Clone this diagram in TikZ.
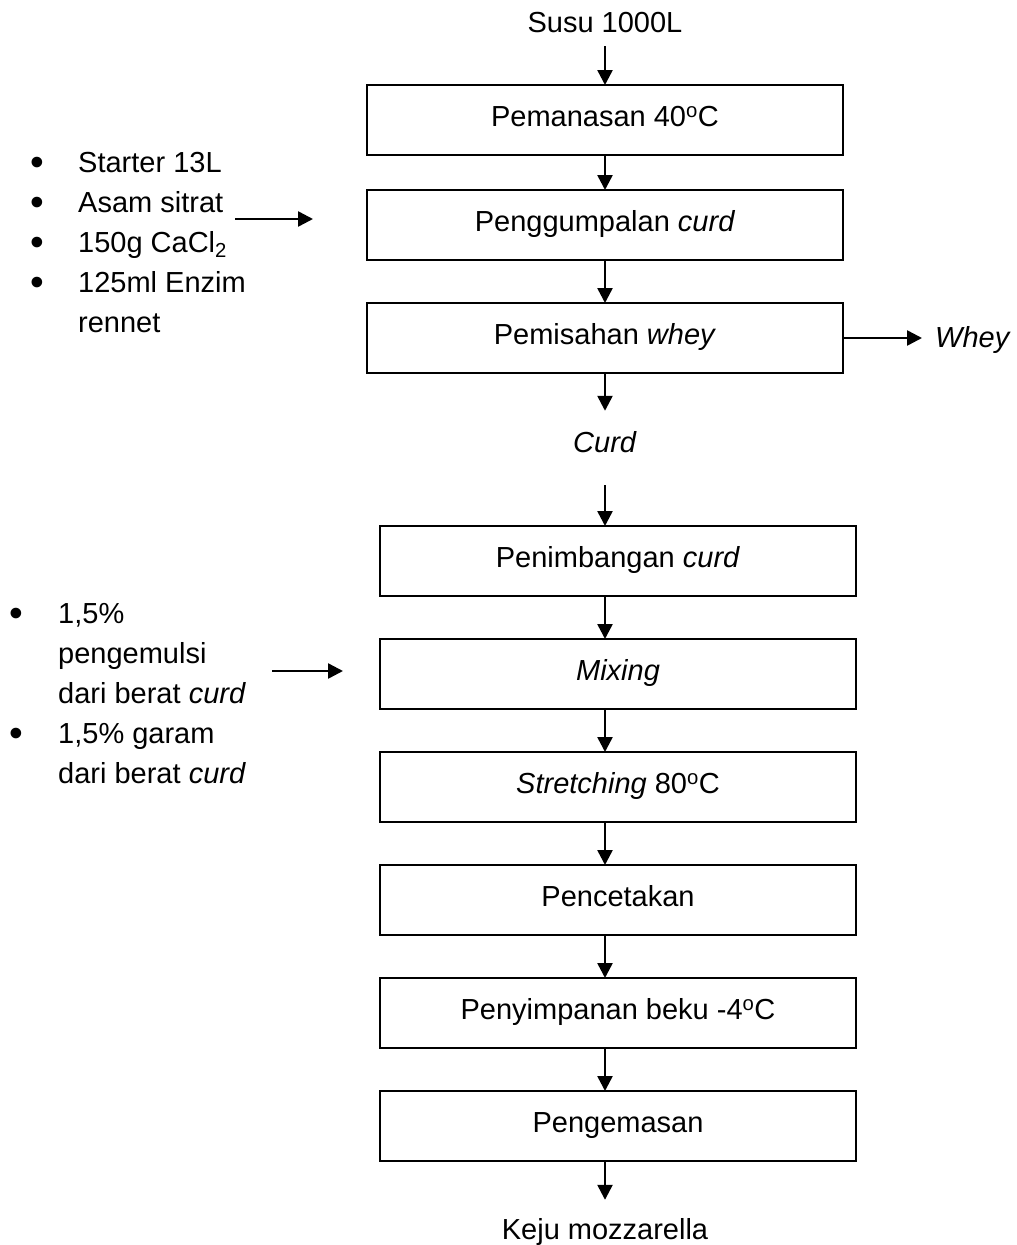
\documentclass[tikz,border=0pt]{standalone}
\usepackage{fontspec}
\setmainfont{Liberation Sans}
\usepackage{xcolor}
\usepackage{graphicx}
\usepackage{tikz}
\usetikzlibrary{
  arrows.meta,
  positioning
}
\definecolor{mzInk}{HTML}{000000}
\newcommand{\mzfont}{\fontsize{29}{40}\selectfont}
\newcommand{\mzdeg}{\textsuperscript{o}C}
\newcommand{\mzbullet}{\raisebox{-3.5pt}{\scalebox{1.35}{\textbullet}}}
\tikzset{
  mznode/.style={
    draw=mzInk, line width=2.5pt, minimum width=476pt, minimum height=70pt,
    inner sep=0pt, outer sep=0pt, text height=20pt, text depth=7pt, font=\mzfont
  },
  mzbox/.style={mznode, fill=white},
  mzterm/.style={font=\mzfont, inner xsep=0pt, anchor=base},
  mzlist/.style={font=\mzfont, inner sep=0pt, anchor=base west},
  mzflow/.style={-{Triangle[length=15pt, width=15pt]}, line width=2.5pt, mzInk}
}

\begin{document}
\begin{tikzpicture}[x=1pt, y=-1pt]
  \useasboundingbox (0,0) rectangle (1017,1245);
  % upper chain
  \node[mzterm, inner ysep=14pt] (susu) at (605,32) {Susu 1000L};
  \node[mzbox] (pemanasan) at (605,120) {Pemanasan 40\mzdeg};
  \node[mzbox, below=35pt of pemanasan] (penggumpalan) {Penggumpalan \textit{curd}};
  \node[mzbox, below=43pt of penggumpalan] (pemisahan) {Pemisahan \textit{whey}};
  \node[mzterm, anchor=base west, inner xsep=13pt, inner ysep=0pt] (whey) at (922,347) {\textit{Whey}};
  \node[mzterm, inner ysep=20pt, text depth=13pt] (curd) at (605,452) {\textit{Curd}};
  % lower chain
  \node[mzbox] (penimbangan) at (618,561) {Penimbangan \textit{curd}};
  \node[mzbox, below=43pt of penimbangan] (mixing) {\textit{Mixing}};
  \node[mzbox, below=43pt of mixing] (stretching) {\textit{Stretching} 80\mzdeg};
  \node[mzbox, below=43pt of stretching] (pencetakan) {Pencetakan};
  \node[mzbox, below=43pt of pencetakan] (penyimpanan) {Penyimpanan beku -4\mzdeg};
  \node[mzbox, below=43pt of penyimpanan] (pengemasan) {Pengemasan};
  \node[mzterm, inner ysep=18pt] (keju) at (605,1239) {Keju mozzarella};
  % added ingredients
  \node[mzlist] (bahan) at (30,172) {\begin{tabular}[t]{@{}p{48pt}@{}l@{}}
    \mzbullet & Starter 13L\\
    \mzbullet & Asam sitrat\\
    \mzbullet & 150g CaCl\textsubscript{2}\\
    \mzbullet & 125ml Enzim\\
              & rennet
  \end{tabular}};
  \node[mzlist] (aditif) at (9,623) {\begin{tabular}[t]{@{}p{49pt}@{}l@{}}
    \mzbullet & 1,5\%\\
              & pengemulsi\\
              & dari berat \textit{curd}\\
    \mzbullet & 1,5\% garam\\
              & dari berat \textit{curd}
  \end{tabular}};
  \coordinate (bahanA) at (235,219);
  \coordinate (bahanB) at (313,219);
  \coordinate (aditifA) at (272,671);
  \coordinate (aditifB) at (343,671);

  \draw[mzflow] (susu.south) -- (pemanasan.north);
  \foreach \a/\b in {pemanasan/penggumpalan, penggumpalan/pemisahan}
    \draw[mzflow] (\a.south) -- (\b.north);
  \draw[mzflow] (pemisahan.east) -- (pemisahan.east -| whey.west);
  \draw[mzflow] (pemisahan.south) -- (curd.north);
  \draw[mzflow] (curd.south) -- (curd.south |- penimbangan.north);
  \foreach \a/\b in {penimbangan/mixing, mixing/stretching, stretching/pencetakan,
                     pencetakan/penyimpanan, penyimpanan/pengemasan}
    \draw[mzflow] (\a.south -| curd) -- (\b.north -| curd);
  \draw[mzflow] (pengemasan.south -| keju) -- (keju.north);
  \draw[mzflow] (bahanA) -- (bahanB);
  \draw[mzflow] (aditifA) -- (aditifB);
\end{tikzpicture}
\end{document}
